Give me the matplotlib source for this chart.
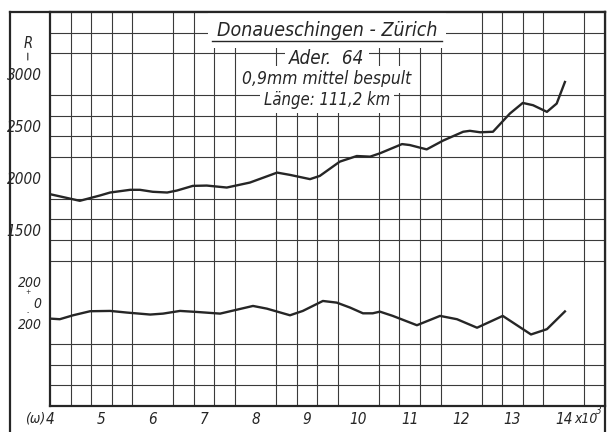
import matplotlib.pyplot as plt
import numpy as np

plt.rcParams['font.family'] = ['DejaVu Sans']
plt.rcParams['font.style'] = 'italic'
plt.rcParams['font.stretch'] = 'condensed'

# Wirkwiderstand R (Ohm) ueber Frequenz (x10^3)
r_freq = [4.00, 4.58, 4.97, 5.17, 5.56, 5.75, 6.00, 6.28, 6.47, 6.78, 7.05, 7.44,
          7.89, 8.42, 8.67, 9.06, 9.25, 9.64, 9.97, 10.23, 10.42, 10.85, 11.00,
          11.33, 11.65, 12.04, 12.17, 12.37, 12.62, 12.95, 13.20, 13.40, 13.67,
          13.86, 14.02]
r_vals = [1843, 1779, 1830, 1859, 1885, 1885, 1866, 1859, 1878, 1923, 1926, 1907,
          1955, 2051, 2029, 1988, 2019, 2157, 2211, 2205, 2237, 2326, 2317,
          2275, 2360, 2445, 2454, 2440, 2445, 2621, 2723, 2701, 2637,
          2717, 2925]

# Blindanteil (Ohm), Nullinie liegt im Raster bei 800
x_freq = [4.00, 4.19, 4.45, 4.78, 5.17, 5.50, 5.95, 6.20, 6.53, 6.86, 7.31, 7.95,
          8.22, 8.67, 8.92, 9.31, 9.58, 9.84, 10.09, 10.28, 10.42, 10.67, 11.14,
          11.59, 11.92, 12.31, 12.81, 13.36, 13.67, 14.02]
x_vals = [-157, -163, -125, -86, -83, -99, -118, -109, -83, -93, -109, -35,
          -61, -125, -83, 13, -3, -51, -106, -106, -90, -131, -221,
          -131, -163, -245, -131, -310, -259, -88]
x_zero = 800

x_ticks = [4, 5, 6, 7, 8, 9, 10, 11, 12, 13, 14]
y_ticks = [3000, 2500, 2000, 1500, 1000, 800, 600]
y_labels = ['3000', '2500', '2000', '1500', '200', '0', '200']

ink = '#262626'

fig = plt.figure(figsize=(6.15, 4.32), dpi=100)

# outer frame of the sheet
frame = fig.add_axes([10/615, 0, 595/615, 420/432])
frame.set_xticks([])
frame.set_yticks([])
frame.spines['bottom'].set_visible(False)
for s in ['left', 'top', 'right']:
    frame.spines[s].set_linewidth(1.6)
    frame.spines[s].set_color(ink)

ax = fig.add_axes([50/615, 26/432, 555/615, 394/432])
ax.set_xlim(4, 14.8)
ax.set_ylim(-200, 3600)
ax.set_xticks(x_ticks)
ax.set_xticklabels([str(t) for t in x_ticks], fontsize=11)
ax.set_xticks(np.arange(4, 14.81, 0.4), minor=True)
ax.set_yticks(y_ticks)
ax.set_yticklabels(y_labels, fontsize=11)
for lbl in ax.get_yticklabels()[4:]:
    lbl.set_fontsize(10)
ax.set_yticks(np.arange(-200, 3601, 200), minor=True)
ax.tick_params(which='both', length=0, colors=ink)
ax.tick_params(axis='y', pad=6)
ax.tick_params(axis='x', pad=4)
ax.grid(which='minor', color='#3a3a3a', linewidth=0.8)
ax.grid(which='major', visible=False)
ax.set_axisbelow(True)
for s in ax.spines.values():
    s.set_linewidth(1.6)
    s.set_color(ink)

ax.plot(r_freq, r_vals, color=ink, linewidth=1.7, solid_joinstyle='round')
ax.plot(x_freq, [v + x_zero for v in x_vals], color=ink, linewidth=1.7,
        solid_joinstyle='round')

# y-axis annotations
ytr = ax.get_yaxis_transform()
ax.text(-0.04, 3300, 'R', transform=ytr, ha='center', va='center', fontsize=10.5, color=ink)
ax.annotate('', xy=(-0.04, 3230), xytext=(-0.04, 3110), xycoords=ytr, textcoords=ytr,
            arrowprops=dict(arrowstyle='-', color=ink, lw=0.8))
ax.text(-0.04, 902, '+', transform=ytr, ha='center', va='center', fontsize=5, color=ink)
ax.text(-0.04, 705, '-', transform=ytr, ha='center', va='center', fontsize=5, color=ink)

# x-axis annotations
xtr = ax.get_xaxis_transform()
ax.text(3.91, -0.032, '(ω)', transform=xtr, ha='right', va='center', fontsize=10, color=ink)
ax.text(14.2, -0.032, 'x10', transform=xtr, ha='left', va='center', fontsize=10, color=ink)
ax.text(14.63, -0.012, '3', transform=xtr, ha='left', va='center', fontsize=7, color=ink)

# title block
box = dict(facecolor='white', edgecolor='none', pad=3)
ax.text(9.39, 3425, 'Donaueschingen - Zürich', ha='center', va='center', fontsize=14,
        color=ink, bbox=dict(facecolor='white', edgecolor='none', pad=6), zorder=2.2)
ax.plot([7.15, 11.63], [3320, 3320], color=ink, linewidth=1.0, zorder=2.3)
ax.text(9.39, 3150, 'Ader.  64', ha='center', va='center', fontsize=13.5, color=ink,
        bbox=box, zorder=2.2)
ax.text(9.39, 2950, '0,9mm mittel bespult', ha='center', va='center', fontsize=12.5,
        color=ink, bbox=box, zorder=2.2)
ax.text(9.39, 2750, 'Länge: 111,2 km', ha='center', va='center', fontsize=12,
        color=ink, bbox=box, zorder=2.2)

fig.savefig('out.png', dpi=100)
